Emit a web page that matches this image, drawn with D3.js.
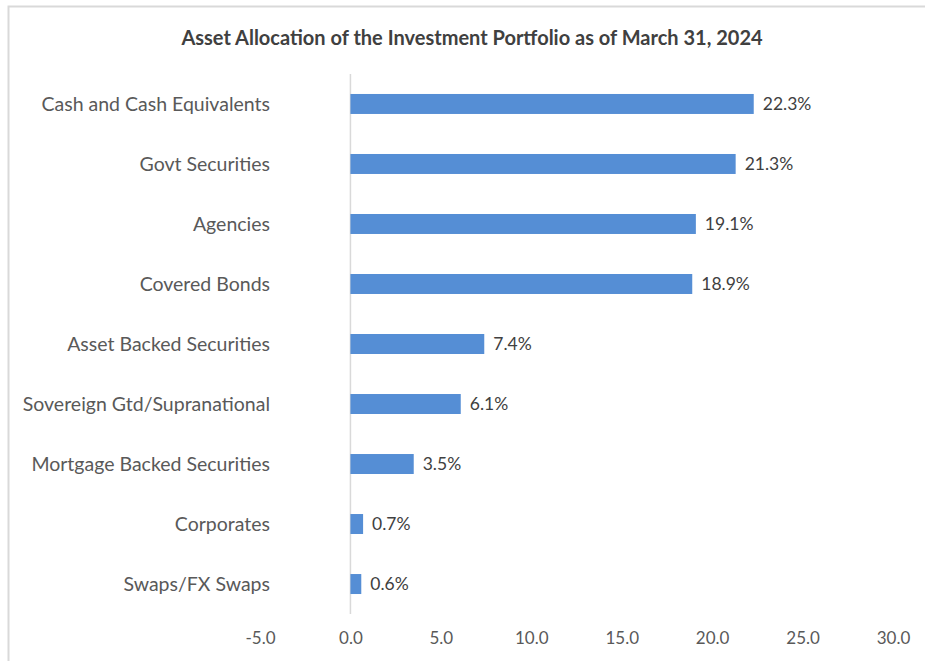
<!DOCTYPE html>
<html>
<head>
<meta charset="utf-8">
<script src="https://cdn.jsdelivr.net/npm/d3@7"></script>
<style>
  body { margin: 0; background: #fff; }
  svg { font-family: Lato, "Open Sans", sans-serif; }
</style>
</head>
<body>
<div id="chart"></div>
<script>
const categories = [
  'Cash and Cash Equivalents', 'Govt Securities', 'Agencies', 'Covered Bonds',
  'Asset Backed Securities', 'Sovereign Gtd/Supranational', 'Mortgage Backed Securities',
  'Corporates', 'Swaps/FX Swaps'
];
const values = [22.3, 21.3, 19.1, 18.9, 7.4, 6.1, 3.5, 0.7, 0.6];
const xTicks = [-5, 0, 5, 10, 15, 20, 25, 30];
const title = 'Asset Allocation of the Investment Portfolio as of March 31, 2024';

const width = 925, height = 661;
const margin = { top: 74, right: 32, bottom: 47, left: 260 };

const svg = d3.select('#chart').append('svg')
  .attr('width', width)
  .attr('height', height);

// chart frame
svg.append('rect')
  .attr('x', 8.5).attr('y', 6.5)
  .attr('width', width + 10).attr('height', height + 10)
  .attr('fill', '#fff')
  .attr('stroke', '#d9d9d9')
  .attr('stroke-width', 2);

const x = d3.scaleLinear()
  .domain([-5, 30])
  .range([margin.left, width - margin.right]);

const y = d3.scaleBand()
  .domain(categories)
  .range([margin.top, height - margin.bottom])
  .paddingInner(0.667)
  .paddingOuter(0.333);

svg.append('text')
  .attr('x', 472).attr('y', 45)
  .attr('text-anchor', 'middle')
  .attr('font-size', 20)
  .attr('font-weight', 'bold')
  .attr('fill', '#404040')
  .text(title);

// vertical axis line at zero
svg.append('line')
  .attr('x1', x(0)).attr('x2', x(0))
  .attr('y1', margin.top).attr('y2', height - margin.bottom)
  .attr('stroke', '#d9d9d9')
  .attr('stroke-width', 1.5);

// bars
svg.selectAll('rect.bar')
  .data(values)
  .enter()
  .append('rect')
  .attr('class', 'bar')
  .attr('x', x(0))
  .attr('y', (d, i) => y(categories[i]))
  .attr('width', d => x(d) - x(0))
  .attr('height', y.bandwidth())
  .attr('fill', '#558ed5');

// value labels
svg.selectAll('text.val')
  .data(values)
  .enter()
  .append('text')
  .attr('class', 'val')
  .attr('x', d => x(d) + 9)
  .attr('y', (d, i) => y(categories[i]) + y.bandwidth() / 2)
  .attr('dy', '0.35em')
  .attr('font-size', 17.5)
  .attr('fill', '#404040')
  .text(d => d.toFixed(1) + '%');

// category labels
svg.selectAll('text.cat')
  .data(categories)
  .enter()
  .append('text')
  .attr('class', 'cat')
  .attr('x', 270)
  .attr('y', d => y(d) + y.bandwidth() / 2)
  .attr('dy', '0.35em')
  .attr('text-anchor', 'end')
  .attr('font-size', 19.5)
  .attr('fill', '#595959')
  .text(d => d);

// x axis (labels only)
const xAxis = svg.append('g')
  .attr('transform', `translate(0,${height - margin.bottom})`)
  .call(d3.axisBottom(x).tickValues(xTicks).tickFormat(d => d.toFixed(1)).tickSize(0).tickPadding(18));
xAxis.select('.domain').remove();
xAxis.selectAll('text')
  .attr('font-size', 17)
  .attr('font-family', 'Lato, "Open Sans", sans-serif')
  .attr('fill', '#595959');
</script>
</body>
</html>
